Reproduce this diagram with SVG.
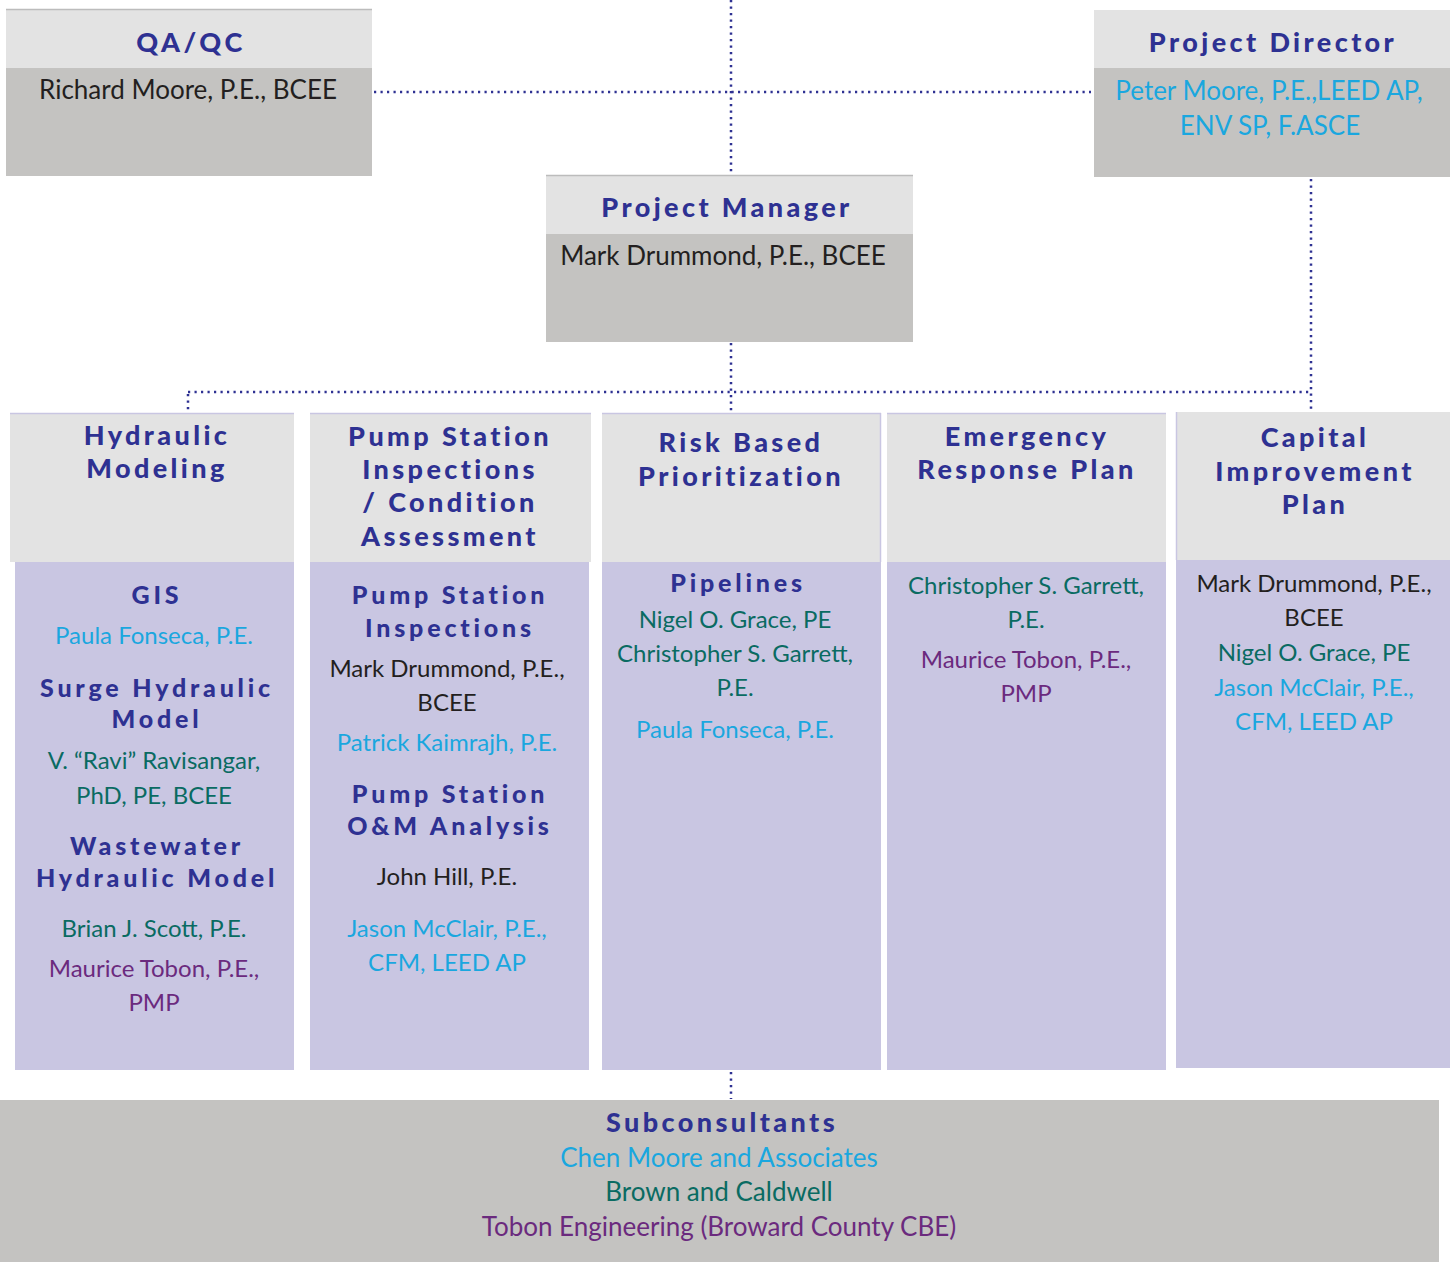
<svg xmlns="http://www.w3.org/2000/svg" width="1450" height="1262" viewBox="0 0 1450 1262">
<style>
.hd{fill:#e3e3e3}
.bd{fill:#c4c3c1}
.lv{fill:#c9c6e2}
.edge{fill:none;stroke:#c9c6e2;stroke-width:1.5}
.gedge{fill:none;stroke:#bcbcbc;stroke-width:1.5}
.dot{fill:none;stroke:#2e3192;stroke-width:2.5;stroke-dasharray:2.2 4.3}
text{text-anchor:middle;font-family:Lato,"Open Sans","Liberation Sans",sans-serif}
.t{font-weight:900;fill:#2e3192;letter-spacing:3.4px;font-size:27px}
.s{font-weight:900;fill:#2e3192;letter-spacing:3.8px;font-size:25px}
.n{font-size:24px}
.nb{font-size:26px}
.k{fill:#231f20}
.c{fill:#1aa7df}
.g{fill:#0a6b62}
.p{fill:#6b2a7e}
</style>
<g id="connectors">
<line class="dot" x1="731" y1="0" x2="731" y2="175"/>
<line class="dot" x1="374" y1="92" x2="1091" y2="92"/>
<line class="dot" x1="731" y1="343" x2="731" y2="412"/>
<line class="dot" x1="188" y1="392" x2="1311" y2="392"/>
<line class="dot" x1="188" y1="394" x2="188" y2="411"/>
<line class="dot" x1="1311" y1="179" x2="1311" y2="411"/>
<line class="dot" x1="731" y1="1072" x2="731" y2="1099"/>
</g>
<g id="qaqc">
<rect class="hd" x="6" y="9" width="366" height="59"/>
<rect class="bd" x="6" y="68" width="366" height="108"/>
<line class="gedge" x1="6" y1="9.5" x2="372" y2="9.5"/>
<text class="t" x="191" y="52">QA/QC</text>
<text class="nb k" x="188" y="99">Richard Moore, P.E., BCEE</text>
</g>
<g id="project-director">
<rect class="hd" x="1094" y="10" width="356" height="58"/>
<rect class="bd" x="1094" y="68" width="356" height="109"/>
<text class="t" x="1273" y="52">Project Director</text>
<text class="nb c" x="1269" y="100">Peter Moore, P.E.,LEED AP,</text>
<text class="nb c" x="1270" y="135">ENV SP, F.ASCE</text>
</g>
<g id="project-manager">
<rect class="hd" x="546" y="175" width="367" height="59"/>
<rect class="bd" x="546" y="234" width="367" height="108"/>
<line class="gedge" x1="546" y1="175.5" x2="913" y2="175.5"/>
<text class="t" x="727" y="217">Project Manager</text>
<text class="nb k" x="723" y="265">Mark Drummond, P.E., BCEE</text>
</g>
<g id="hydraulic-modeling">
<rect class="hd" x="10" y="413" width="284" height="149"/>
<rect class="lv" x="15" y="562" width="279" height="508"/>
<line class="edge" x1="10" y1="413.5" x2="294" y2="413.5"/>
<text class="t" x="157" y="445">Hydraulic</text>
<text class="t" x="157" y="478">Modeling</text>
<text class="s" x="157" y="604">GIS</text>
<text class="n c" x="154" y="644">Paula Fonseca, P.E.</text>
<text class="s" x="157" y="697">Surge Hydraulic</text>
<text class="s" x="157" y="728">Model</text>
<text class="n g" x="154" y="769">V. “Ravi” Ravisangar,</text>
<text class="n g" x="154" y="804">PhD, PE, BCEE</text>
<text class="s" x="157" y="855">Wastewater</text>
<text class="s" x="157" y="887">Hydraulic Model</text>
<text class="n g" x="154" y="937">Brian J. Scott, P.E.</text>
<text class="n p" x="154" y="977">Maurice Tobon, P.E.,</text>
<text class="n p" x="154" y="1011">PMP</text>
</g>
<g id="pump-station">
<rect class="hd" x="310" y="413" width="281" height="149"/>
<rect class="lv" x="310" y="562" width="279" height="508"/>
<line class="edge" x1="310" y1="413.5" x2="591" y2="413.5"/>
<text class="t" x="450" y="446">Pump Station</text>
<text class="t" x="450" y="479">Inspections</text>
<text class="t" x="450" y="512">/ Condition</text>
<text class="t" x="450" y="546">Assessment</text>
<text class="s" x="450" y="604">Pump Station</text>
<text class="s" x="450" y="637">Inspections</text>
<text class="n k" x="447" y="677">Mark Drummond, P.E.,</text>
<text class="n k" x="447" y="711">BCEE</text>
<text class="n c" x="447" y="751">Patrick Kaimrajh, P.E.</text>
<text class="s" x="450" y="803">Pump Station</text>
<text class="s" x="450" y="835">O&amp;M Analysis</text>
<text class="n k" x="447" y="885">John Hill, P.E.</text>
<text class="n c" x="447" y="937">Jason McClair, P.E.,</text>
<text class="n c" x="447" y="971">CFM, LEED AP</text>
</g>
<g id="risk-based">
<rect class="hd" x="602" y="413" width="279" height="149"/>
<rect class="lv" x="602" y="562" width="279" height="508"/>
<line class="edge" x1="602" y1="413.5" x2="881" y2="413.5"/>
<line class="edge" x1="880.5" y1="413" x2="880.5" y2="562"/>
<text class="t" x="741" y="452">Risk Based</text>
<text class="t" x="741" y="486">Prioritization</text>
<text class="s" x="738" y="592">Pipelines</text>
<text class="n g" x="735" y="628">Nigel O. Grace, PE</text>
<text class="n g" x="735" y="662">Christopher S. Garrett,</text>
<text class="n g" x="735" y="696">P.E.</text>
<text class="n c" x="735" y="738">Paula Fonseca, P.E.</text>
</g>
<g id="emergency-response">
<rect class="hd" x="887" y="413" width="279" height="149"/>
<rect class="lv" x="887" y="562" width="279" height="508"/>
<line class="edge" x1="887" y1="413.5" x2="1166" y2="413.5"/>
<text class="t" x="1027" y="446">Emergency</text>
<text class="t" x="1027" y="479">Response Plan</text>
<text class="n g" x="1026" y="594">Christopher S. Garrett,</text>
<text class="n g" x="1026" y="628">P.E.</text>
<text class="n p" x="1026" y="668">Maurice Tobon, P.E.,</text>
<text class="n p" x="1026" y="702">PMP</text>
</g>
<g id="capital-improvement">
<rect class="hd" x="1176" y="412" width="274" height="148"/>
<rect class="lv" x="1176" y="560" width="274" height="508"/>
<line class="edge" x1="1176.5" y1="412" x2="1176.5" y2="560"/>
<text class="t" x="1315" y="447">Capital</text>
<text class="t" x="1315" y="481">Improvement</text>
<text class="t" x="1315" y="514">Plan</text>
<text class="n k" x="1314" y="592">Mark Drummond, P.E.,</text>
<text class="n k" x="1314" y="626">BCEE</text>
<text class="n g" x="1314" y="661">Nigel O. Grace, PE</text>
<text class="n c" x="1314" y="696">Jason McClair, P.E.,</text>
<text class="n c" x="1314" y="730">CFM, LEED AP</text>
</g>
<g id="subconsultants">
<rect class="bd" x="0" y="1100" width="1439" height="162"/>
<text class="t" x="722" y="1132">Subconsultants</text>
<text class="nb c" x="719" y="1167">Chen Moore and Associates</text>
<text class="nb g" x="719" y="1201">Brown and Caldwell</text>
<text class="nb p" x="719" y="1236">Tobon Engineering (Broward County CBE)</text>
</g>
</svg>
